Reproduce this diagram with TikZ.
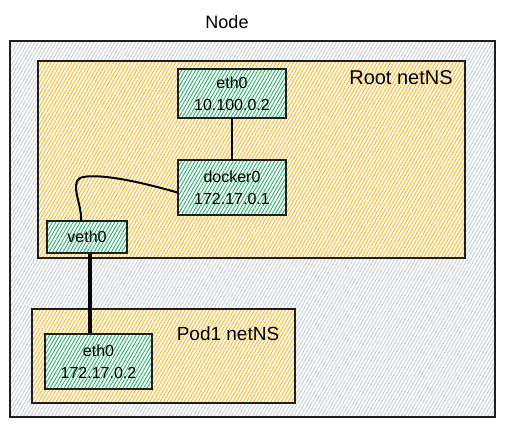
\documentclass[tikz,border=0pt]{standalone}
\usepackage{fontspec}
\setmainfont{Liberation Sans}
\usetikzlibrary{patterns.meta,calc}
\definecolor{hatchgray}{RGB}{200,206,212}
\definecolor{hatchorange}{RGB}{248,185,30}
\definecolor{hatchgreen}{RGB}{40,175,110}
\definecolor{edge}{RGB}{30,30,30}
\tikzset{
  hatch/.style={preaction={fill=white},
    pattern={Lines[angle=60,distance=3pt,line width=0.9pt]}, pattern color=#1},
  nodebox/.style={draw=edge, line width=1.1pt, hatch=hatchgray},
  nsbox/.style={draw=edge, line width=1.3pt, hatch=hatchorange},
  ifbox/.style={draw=edge, line width=1.3pt, hatch=hatchgreen, align=center,
    inner sep=0pt, font=\fontsize{16}{22}\selectfont},
  title/.style={font=\fontsize{18}{22}\selectfont},
  nslabel/.style={font=\fontsize{20}{24}\selectfont},
  wire/.style={draw=black, line width=2pt, line cap=round},
  thickwire/.style={draw=black, line width=3.2pt},
}
\begin{document}
\begin{tikzpicture}[x=1pt,y=-1pt]
\useasboundingbox (0,0) rectangle (505,427);
% outer node box
\node[nodebox, minimum width=485pt, minimum height=376pt, inner sep=0pt] (nodebox) at (252.5,229) {};
\node[title] (nodetitle) at (227,22) {Node};
% root netns
\node[nsbox, minimum width=427pt, minimum height=197pt, inner sep=0pt] (rootns) at (251.5,159.5) {};
\node[nslabel] (rootlabel) at (401,78) {Root netNS};
% pod netns
\node[nsbox, minimum width=263pt, minimum height=94pt, inner sep=0pt] (podns) at (163.5,356) {};
\node[nslabel, font=\fontsize{19}{23}\selectfont] (podlabel) at (228,334) {Pod1 netNS};
% interfaces
\node[ifbox, minimum width=108pt, minimum height=49pt] (eth0) at (232,93.5) {eth0\\10.100.0.2};
\node[ifbox, minimum width=108pt, minimum height=55pt] (docker0) at (232,187.5) {docker0\\172.17.0.1};
\node[ifbox, minimum width=80pt, minimum height=32pt] (veth0) at (87,237) {veth0};
\node[ifbox, minimum width=107pt, minimum height=55pt] (podeth0) at (98.5,361.5) {eth0\\172.17.0.2};
% connectors
\draw[wire] (eth0.south) -- (docker0.north);
\draw[wire] ([yshift=-5pt]docker0.west) .. controls (120,176) and (90,174) .. (80,178)
  .. controls (70,184) and (82,205) .. ([xshift=-6pt]veth0.north);
\draw[thickwire] ([xshift=3pt]veth0.south) -- ([xshift=3pt]veth0.south |- podeth0.north);
\end{tikzpicture}
\end{document}
